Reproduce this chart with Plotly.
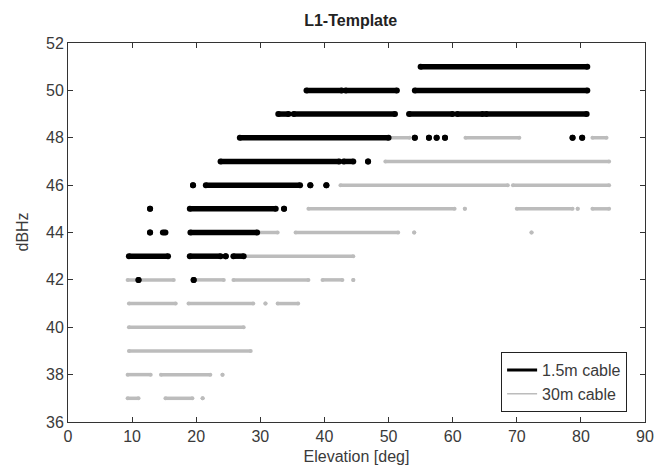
import plotly.graph_objects as go

# ---- data: runs of samples per dBHz level (start/end elevation in deg) ----
black_level = [51, 50, 50, 50, 49, 49, 49, 49, 49,
               48, 48, 48, 48, 48, 48, 48,
               47, 47, 47, 46, 46, 46, 46,
               45, 45, 45, 44, 44, 44,
               43, 43, 43, 43, 42, 42]
black_start = [55.0, 37.2, 43.3, 54.1, 32.8, 35.2, 53.2, 60.7, 65.2,
               26.8, 54.1, 56.3, 57.5, 58.8, 78.7, 80.2,
               23.8, 43.0, 46.8, 19.5, 21.5, 37.8, 40.3,
               12.8, 19.0, 33.7, 12.8, 14.8, 19.1,
               9.5, 19.0, 24.6, 25.8, 11.0, 19.6]
black_end = [81.0, 42.7, 51.3, 81.0, 34.4, 51.0, 60.0, 64.7, 80.9,
             50.0, 54.1, 56.3, 57.5, 58.8, 78.7, 80.2,
             42.3, 44.5, 46.8, 19.5, 36.2, 37.8, 40.3,
             12.8, 32.4, 33.7, 12.8, 15.2, 29.5,
             15.6, 23.8, 24.6, 27.4, 11.0, 19.6]

gray_level = [48, 48, 48, 47, 46, 46,
              45, 45, 45, 45, 45,
              44, 44, 44, 44, 43,
              42, 42, 42, 42, 42,
              41, 41, 41, 41, 40, 39,
              38, 38, 38, 37, 37, 37]
gray_start = [50.0, 62.0, 81.8, 49.5, 42.5, 69.4,
              37.5, 61.9, 70.0, 79.5, 81.8,
              29.5, 35.5, 54.0, 72.3, 27.4,
              9.3, 19.6, 25.8, 39.7, 44.5,
              9.5, 18.8, 30.8, 32.7, 9.5, 9.5,
              9.3, 14.5, 24.1, 9.3, 15.2, 21.0]
gray_end = [53.3, 70.4, 84.0, 84.4, 68.6, 84.4,
            60.3, 61.9, 78.7, 79.5, 84.4,
            32.7, 51.5, 54.0, 72.3, 44.5,
            16.5, 24.3, 37.5, 42.8, 44.5,
            16.8, 28.9, 30.8, 35.9, 27.4, 28.5,
            12.9, 22.2, 24.1, 11.0, 19.4, 21.0]

x_ticks = [0, 10, 20, 30, 40, 50, 60, 70, 80, 90]
y_ticks = [36, 38, 40, 42, 44, 46, 48, 50, 52]


def runs_to_xy(levels, starts, ends):
    xs, ys = [], []
    for lv, s, e in zip(levels, starts, ends):
        xs += [s, e, None]
        ys += [lv, lv, None]
    return xs, ys


gx, gy = runs_to_xy(gray_level, gray_start, gray_end)
bx, by = runs_to_xy(black_level, black_start, black_end)

GRAY = "#bcbcbc"
TXT = "#3a3a3a"
fig = go.Figure()
fig.add_trace(go.Scatter(x=gx, y=gy, mode="lines+markers", showlegend=False,
                         line=dict(color=GRAY, width=3.5),
                         marker=dict(color=GRAY, size=4), hoverinfo="skip"))
fig.add_trace(go.Scatter(x=bx, y=by, mode="lines+markers", showlegend=False,
                         line=dict(color="black", width=5.5),
                         marker=dict(color="black", size=6), hoverinfo="skip"))
# legend entries
fig.add_trace(go.Scatter(x=[None], y=[None], mode="lines", name="1.5m cable",
                         line=dict(color="black", width=3)))
fig.add_trace(go.Scatter(x=[None], y=[None], mode="lines", name="30m cable",
                         line=dict(color=GRAY, width=1.5)))

axis_common = dict(showline=True, linecolor="#333", linewidth=1, mirror="ticks",
                   ticks="inside", ticklen=5, tickcolor="#333", showgrid=False,
                   zeroline=False, tickfont=dict(size=16, color=TXT))

fig.update_layout(
    width=666, height=468,
    margin=dict(l=60, r=29, t=35, b=54),
    paper_bgcolor="white", plot_bgcolor="white",
    font=dict(family="Liberation Sans, Arial, sans-serif", size=16, color=TXT),
    title=dict(text="<b>L1-Template</b>", x=0.49, xref="paper", xanchor="center",
               y=0.974, yanchor="middle", font=dict(size=16, color="#222")),
    xaxis=dict(range=[0, 90], tickvals=x_ticks, title=dict(text="Elevation [deg]", standoff=6,
               font=dict(size=16)), **axis_common),
    yaxis=dict(range=[36, 52], tickvals=y_ticks, **axis_common),
    legend=dict(x=0.969, y=0.026, xanchor="right", yanchor="bottom",
                bgcolor="white", bordercolor="#222", borderwidth=1,
                font=dict(size=16, color=TXT), tracegroupgap=0),
)
fig.add_annotation(text="dBHz", textangle=-90, x=0, y=0.5, xref="paper", yref="paper",
                   xanchor="center", yanchor="middle", xshift=-46, showarrow=False,
                   font=dict(size=16, color=TXT))

fig.write_html("out.html")
